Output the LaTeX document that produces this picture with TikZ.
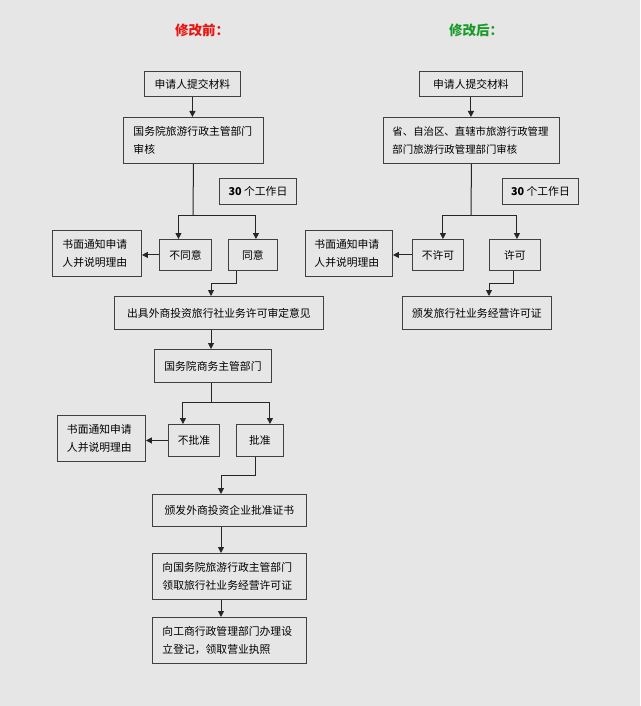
\documentclass[tikz,border=0pt]{standalone}
\usepackage{fontspec}
\setmainfont{Noto Sans CJK SC}
\usepackage{tikz}
\usetikzlibrary{positioning}
\usetikzlibrary{arrows.meta}
\usetikzlibrary{calc}
\definecolor{bgcol}{RGB}{230,230,230}
\definecolor{beforered}{RGB}{232,20,15}
\definecolor{aftergreen}{RGB}{26,154,42}
\newcommand{\days}{\textbf{30} 个工作日}

\begin{document}
\begin{tikzpicture}[x=1pt,y=-1pt,>={Triangle[length=6pt,width=6pt]},
  box/.style={draw=black!75,line width=0.9pt,inner sep=0pt,anchor=north west,
    text=black,font=\fontsize{10.8}{18}\selectfont},
  twoline/.style={align=left,text width=#1},
  title/.style={font=\fontsize{13.5}{15}\selectfont\bfseries},
  link/.style={->,line width=1pt,black!85}]
  \fill[bgcol] (0,0) rectangle (640,706);
  \useasboundingbox (0,0) rectangle (640,706);
  \node[title,text=beforered] (titleA) at (202,30) {修改前：};
  \node[title,text=aftergreen] (titleB) at (476,30) {修改后：};
  % before: the left chart
  \node[box,minimum width=96pt,minimum height=25pt] (applyA) at (144,71) {申请人提交材料};
  \node[box,minimum width=140pt,minimum height=46pt,twoline=120pt] (reviewA) at (123,117)
    {国务院旅游行政主管部门\\审核};
  \node[box,minimum width=77pt,minimum height=26pt] (daysA) at (219,178) {\days};
  \node[box,minimum width=52pt,minimum height=31pt] (noA) at (159,239) {不同意};
  \node[box,minimum width=49pt,minimum height=31pt] (yesA) at (228,239) {同意};
  \node[box,minimum width=89pt,minimum height=46pt,twoline=69pt] (notifyA) at (52,230)
    {书面通知申请\\人并说明理由};
  \node[box,minimum width=209pt,minimum height=33pt] (opinionA) at (114,296)
    {出具外商投资旅行社业务许可审定意见};
  \node[box,minimum width=117pt,minimum height=33pt] (commerceA) at (154,349) {国务院商务主管部门};
  \node[box,minimum width=51pt,minimum height=32pt] (rejectA) at (168,424) {不批准};
  \node[box,minimum width=47pt,minimum height=32pt] (approveA) at (236,424) {批准};
  \node[box,minimum width=88pt,minimum height=46pt,twoline=69pt] (notifyB) at (57,415)
    {书面通知申请\\人并说明理由};
  \node[box,minimum width=154pt,minimum height=32pt] (certA) at (152,494)
    {颁发外商投资企业批准证书};
  \node[box,minimum width=154pt,minimum height=46pt,twoline=134pt] (licenceA) at (152,553)
    {向国务院旅游行政主管部门\\领取旅行社业务经营许可证};
  \node[box,minimum width=154pt,minimum height=46pt,twoline=134pt] (registerA) at (152,617)
    {向工商行政管理部门办理设\\立登记，领取营业执照};
  % after: the right chart
  \node[box,minimum width=103pt,minimum height=25pt] (applyB) at (419,71) {申请人提交材料};
  \node[box,minimum width=176pt,minimum height=46pt,twoline=158pt,
    font=\fontsize{10.4}{18}\selectfont] (reviewB) at (383,117)
    {省、自治区、直辖市旅游行政管理\\部门旅游行政管理部门审核};
  \node[box,minimum width=76pt,minimum height=26pt] (daysB) at (502,178) {\days};
  \node[box,minimum width=51pt,minimum height=31pt] (denyB) at (412,239) {不许可};
  \node[box,minimum width=51pt,minimum height=31pt] (permitB) at (489,239) {许可};
  \node[box,minimum width=87pt,minimum height=46pt,twoline=69pt] (notifyC) at (305,230)
    {书面通知申请\\人并说明理由};
  \node[box,minimum width=149pt,minimum height=33pt] (licenceB) at (402,296)
    {颁发旅行社业务经营许可证};
  % fork and bend points
  \coordinate (forkA) at (193,215);
  \coordinate (bendA) at (211,283);
  \coordinate (forkB) at (211,402);
  \coordinate (bendB) at (221,475);
  \coordinate (forkC) at (471,215);
  \coordinate (bendC) at (489,283);
  % left connectors
  \draw[link] (applyA.south) -- (applyA.south |- reviewA.north);
  \draw[link,-] (reviewA.south) -- (forkA);
  \draw[link] (forkA) -| ([xshift=-7pt]noA.north);
  \draw[link] (forkA) -| ([xshift=3pt]yesA.north);
  \draw[link] (noA.west) -- (noA.west -| notifyA.east);
  \draw[link] ([xshift=-16pt]yesA.south) |- (bendA) -- (bendA |- opinionA.north);
  \draw[link] (opinionA.south -| bendA) -- (commerceA.north -| bendA);
  \draw[link,-] (commerceA.south -| forkB) -- (forkB);
  \draw[link] (forkB) -| ([xshift=-11pt]rejectA.north);
  \draw[link] (forkB) -| ([xshift=10pt]approveA.north);
  \draw[link] (rejectA.west) -- (rejectA.west -| notifyB.east);
  \draw[link] ([xshift=-4pt]approveA.south) |- (bendB) -- (bendB |- certA.north);
  \draw[link] (certA.south -| bendB) -- (licenceA.north -| bendB);
  \draw[link] (licenceA.south -| bendB) -- (registerA.north -| bendB);
  % right connectors
  \draw[link] (applyB.south) -- (applyB.south |- reviewB.north);
  \draw[link,-] (reviewB.south) -- (forkC);
  \draw[link] (forkC) -| ([xshift=5pt]denyB.north);
  \draw[link] (forkC) -| ([xshift=2pt]permitB.north);
  \draw[link] (denyB.west) -- (denyB.west -| notifyC.east);
  \draw[link] ([xshift=-1pt]permitB.south) |- (bendC) -- (bendC |- licenceB.north);
\end{tikzpicture}
\end{document}
